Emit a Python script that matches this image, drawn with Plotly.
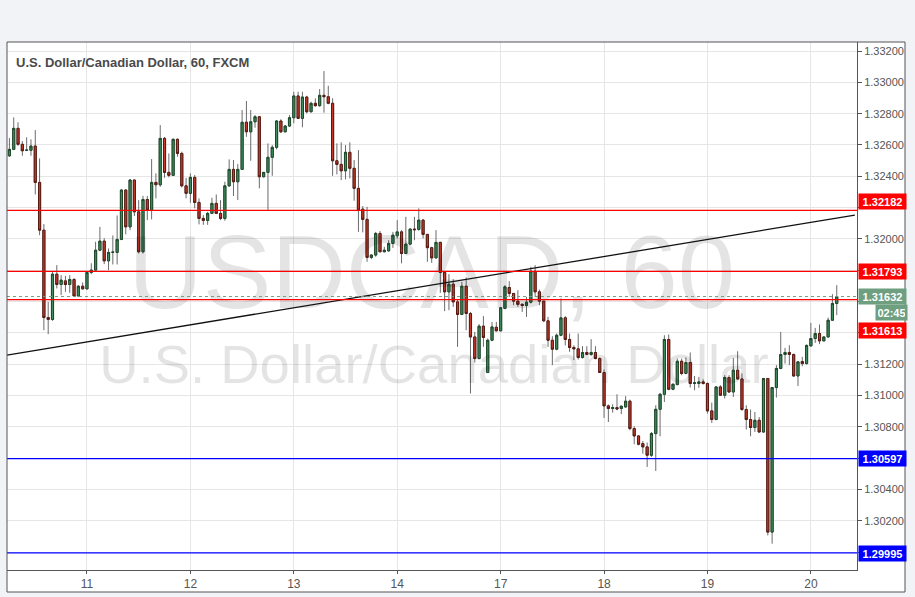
import plotly.graph_objects as go

# ---------------- data (USD/CAD hourly, FXCM) ----------------
day_labels = ["11", "12", "13", "14", "17", "18", "19", "20"]
day_start_index = [18, 42, 66, 90, 114, 138, 162, 186]

open_ = [1.32531, 1.32572, 1.32706, 1.32604, 1.32566, 1.32566, 1.32593, 1.32361, 1.32056, 1.31498,
         1.31486, 1.31775, 1.31709, 1.31732, 1.31709, 1.31741, 1.31636, 1.31698, 1.31681, 1.31786,
         1.31801, 1.31928, 1.31986, 1.31860, 1.31914, 1.31914, 1.31997, 1.32312, 1.32077, 1.32376,
         1.32173, 1.31918, 1.32252, 1.32184, 1.32361, 1.32346, 1.32642, 1.32425, 1.32406, 1.32636,
         1.32546, 1.32339, 1.32291, 1.32393, 1.32233, 1.32131, 1.32118, 1.32163, 1.32227, 1.32163,
         1.32131, 1.32339, 1.32444, 1.32365, 1.32444, 1.32745, 1.32684, 1.32748, 1.32780, 1.32397,
         1.32425, 1.32521, 1.32585, 1.32753, 1.32684, 1.32721, 1.32774, 1.32913, 1.32770, 1.32906,
         1.32812, 1.32866, 1.32851, 1.32917, 1.32908, 1.32866, 1.32499, 1.32476, 1.32435, 1.32553,
         1.32451, 1.32323, 1.32190, 1.32125, 1.31882, 1.31897, 1.32035, 1.31918, 1.31924, 1.31971,
         1.32020, 1.32045, 1.31907, 1.31967, 1.32063, 1.32061, 1.32120, 1.32029, 1.31944, 1.31879,
         1.31978, 1.31786, 1.31662, 1.31711, 1.31598, 1.31518, 1.31698, 1.31524, 1.31374, 1.31236,
         1.31443, 1.31147, 1.31353, 1.31436, 1.31413, 1.31556, 1.31690, 1.31652, 1.31603, 1.31583,
         1.31575, 1.31596, 1.31794, 1.31662, 1.31603, 1.31477, 1.31353, 1.31296, 1.31385, 1.31496,
         1.31358, 1.31307, 1.31298, 1.31243, 1.31275, 1.31262, 1.31275, 1.31236, 1.31147, 1.30934,
         1.30917, 1.30923, 1.30917, 1.30927, 1.30964, 1.30789, 1.30742, 1.30693, 1.30672, 1.30619,
         1.30757, 1.30912, 1.31008, 1.31358, 1.31040, 1.31070, 1.31219, 1.31141, 1.31211, 1.31077,
         1.31077, 1.31087, 1.31077, 1.30902, 1.30847, 1.31055, 1.31002, 1.31115, 1.31023, 1.31162,
         1.31106, 1.30911, 1.30847, 1.30796, 1.30842, 1.30767, 1.31109, 1.30128, 1.31051, 1.31173,
         1.31262, 1.31275, 1.31262, 1.31125, 1.31217, 1.31204, 1.31317, 1.31364, 1.31396, 1.31349,
         1.31374, 1.31481, 1.31588]

high = [1.32644, 1.32776, 1.32745, 1.32625, 1.32649, 1.32636, 1.32695, 1.32514, 1.32095, 1.31598,
        1.31796, 1.31833, 1.31769, 1.31764, 1.31769, 1.31750, 1.31705, 1.31722, 1.31794, 1.31845,
        1.31982, 1.32077, 1.32005, 1.31939, 1.32022, 1.32150, 1.32318, 1.32318, 1.32382, 1.32379,
        1.32248, 1.32275, 1.32274, 1.32510, 1.32419, 1.32727, 1.32651, 1.32546, 1.32642, 1.32642,
        1.32557, 1.32390, 1.32419, 1.32408, 1.32259, 1.32152, 1.32173, 1.32263, 1.32284, 1.32248,
        1.32365, 1.32508, 1.32504, 1.32478, 1.32823, 1.32881, 1.32823, 1.32791, 1.32785, 1.32427,
        1.32610, 1.32599, 1.32759, 1.32764, 1.32727, 1.32791, 1.32940, 1.32940, 1.32940, 1.32914,
        1.32876, 1.32898, 1.32957, 1.33072, 1.32978, 1.32898, 1.32610, 1.32617, 1.32599, 1.32617,
        1.32504, 1.32567, 1.32210, 1.32205, 1.31903, 1.32045, 1.32050, 1.31950, 1.31992, 1.32045,
        1.32120, 1.32056, 1.32141, 1.32067, 1.32141, 1.32195, 1.32127, 1.32031, 1.31950, 1.32056,
        1.31982, 1.31790, 1.31775, 1.31743, 1.31615, 1.31726, 1.31754, 1.31534, 1.31406, 1.31456,
        1.31507, 1.31364, 1.31470, 1.31470, 1.31566, 1.31705, 1.31730, 1.31652, 1.31673, 1.31587,
        1.31630, 1.31822, 1.31833, 1.31677, 1.31603, 1.31502, 1.31379, 1.31396, 1.31620, 1.31507,
        1.31396, 1.31321, 1.31396, 1.31315, 1.31315, 1.31360, 1.31315, 1.31243, 1.31166, 1.30943,
        1.30944, 1.31008, 1.30936, 1.30996, 1.30974, 1.30804, 1.30746, 1.30710, 1.30700, 1.30767,
        1.30938, 1.31017, 1.31385, 1.31390, 1.31077, 1.31236, 1.31236, 1.31243, 1.31275, 1.31125,
        1.31119, 1.31104, 1.31083, 1.30955, 1.31059, 1.31066, 1.31130, 1.31130, 1.31240, 1.31283,
        1.31141, 1.30938, 1.30911, 1.30895, 1.30863, 1.31112, 1.31112, 1.31055, 1.31194, 1.31406,
        1.31304, 1.31321, 1.31268, 1.31219, 1.31247, 1.31326, 1.31464, 1.31432, 1.31454, 1.31379,
        1.31498, 1.31647, 1.31705]

low = [1.32523, 1.32567, 1.32595, 1.32531, 1.32561, 1.32531, 1.32284, 1.32024, 1.31417, 1.31392,
       1.31477, 1.31684, 1.31641, 1.31662, 1.31656, 1.31630, 1.31635, 1.31679, 1.31679, 1.31775,
       1.31801, 1.31922, 1.31839, 1.31801, 1.31837, 1.31837, 1.31992, 1.32029, 1.32056, 1.32146,
       1.31907, 1.31907, 1.32120, 1.32125, 1.32259, 1.32333, 1.32390, 1.32393, 1.32405, 1.32525,
       1.32329, 1.32259, 1.32231, 1.32195, 1.32093, 1.32090, 1.32090, 1.32159, 1.32159, 1.32120,
       1.32116, 1.32333, 1.32274, 1.32248, 1.32440, 1.32652, 1.32499, 1.32710, 1.32323, 1.32393,
       1.32184, 1.32403, 1.32572, 1.32676, 1.32681, 1.32716, 1.32738, 1.32766, 1.32713, 1.32802,
       1.32808, 1.32844, 1.32844, 1.32806, 1.32860, 1.32403, 1.32412, 1.32376, 1.32380, 1.32387,
       1.32244, 1.32045, 1.32042, 1.31854, 1.31871, 1.31886, 1.31914, 1.31914, 1.31918, 1.31943,
       1.32003, 1.31844, 1.31903, 1.31960, 1.31992, 1.32052, 1.32003, 1.31854, 1.31847, 1.31875,
       1.31656, 1.31539, 1.31545, 1.31566, 1.31311, 1.31513, 1.31417, 1.31013, 1.31211, 1.31232,
       1.31311, 1.31144, 1.31347, 1.31411, 1.31411, 1.31551, 1.31630, 1.31577, 1.31566, 1.31534,
       1.31502, 1.31588, 1.31630, 1.31577, 1.31470, 1.31311, 1.31194, 1.31289, 1.31379, 1.31320,
       1.31279, 1.31226, 1.31230, 1.31236, 1.31258, 1.31253, 1.31232, 1.31144, 1.30857, 1.30831,
       1.30891, 1.30906, 1.30881, 1.30923, 1.30778, 1.30689, 1.30682, 1.30629, 1.30544, 1.30608,
       1.30518, 1.30740, 1.30959, 1.31034, 1.31034, 1.31066, 1.31130, 1.31136, 1.31051, 1.31034,
       1.31049, 1.31070, 1.30885, 1.30825, 1.30842, 1.30997, 1.30981, 1.31017, 1.30991, 1.31102,
       1.30902, 1.30783, 1.30740, 1.30767, 1.30764, 1.30764, 1.30107, 1.30054, 1.30987, 1.31168,
       1.31204, 1.31194, 1.31119, 1.31061, 1.31187, 1.31198, 1.31315, 1.31336, 1.31328, 1.31347,
       1.31371, 1.31477, 1.31513]

close = [1.32572, 1.32706, 1.32604, 1.32563, 1.32567, 1.32593, 1.32361, 1.32056, 1.31498, 1.31486,
         1.31775, 1.31709, 1.31737, 1.31709, 1.31741, 1.31636, 1.31698, 1.31681, 1.31786, 1.31801,
         1.31928, 1.31986, 1.31860, 1.31914, 1.31916, 1.31997, 1.32312, 1.32077, 1.32376, 1.32173,
         1.31918, 1.32252, 1.32184, 1.32361, 1.32346, 1.32642, 1.32425, 1.32406, 1.32636, 1.32546,
         1.32339, 1.32291, 1.32393, 1.32233, 1.32131, 1.32118, 1.32163, 1.32227, 1.32163, 1.32131,
         1.32339, 1.32444, 1.32365, 1.32444, 1.32745, 1.32684, 1.32748, 1.32780, 1.32397, 1.32425,
         1.32521, 1.32585, 1.32753, 1.32684, 1.32721, 1.32774, 1.32913, 1.32770, 1.32906, 1.32812,
         1.32866, 1.32851, 1.32917, 1.32908, 1.32866, 1.32499, 1.32476, 1.32435, 1.32553, 1.32451,
         1.32323, 1.32184, 1.32125, 1.31882, 1.31897, 1.32035, 1.31918, 1.31928, 1.31971, 1.32024,
         1.32045, 1.31907, 1.31967, 1.32063, 1.32059, 1.32120, 1.32029, 1.31944, 1.31879, 1.31978,
         1.31786, 1.31662, 1.31711, 1.31598, 1.31518, 1.31698, 1.31524, 1.31374, 1.31236, 1.31443,
         1.31371, 1.31353, 1.31438, 1.31413, 1.31560, 1.31694, 1.31652, 1.31603, 1.31582, 1.31575,
         1.31596, 1.31794, 1.31662, 1.31603, 1.31477, 1.31353, 1.31296, 1.31385, 1.31496, 1.31358,
         1.31307, 1.31298, 1.31243, 1.31275, 1.31262, 1.31275, 1.31236, 1.31147, 1.30934, 1.30917,
         1.30923, 1.30914, 1.30932, 1.30964, 1.30789, 1.30742, 1.30689, 1.30672, 1.30619, 1.30757,
         1.30912, 1.31008, 1.31358, 1.31040, 1.31072, 1.31219, 1.31141, 1.31211, 1.31077, 1.31081,
         1.31087, 1.31077, 1.30902, 1.30847, 1.31055, 1.31002, 1.31115, 1.31023, 1.31162, 1.31106,
         1.30911, 1.30847, 1.30796, 1.30842, 1.30767, 1.31109, 1.30128, 1.31051, 1.31173, 1.31262,
         1.31275, 1.31262, 1.31125, 1.31215, 1.31204, 1.31320, 1.31364, 1.31396, 1.31349, 1.31374,
         1.31481, 1.31588, 1.31632]

red_levels = [1.32182, 1.31793, 1.31613]
blue_levels = [1.30597, 1.29995]
last_price = 1.31632
countdown = "02:45"
trend_x = [-0.56, 196.2]
trend_y = [1.31258, 1.32152]
y_tick_values = [1.300, 1.302, 1.304, 1.306, 1.308, 1.310, 1.312, 1.314, 1.316,
                 1.318, 1.320, 1.322, 1.324, 1.326, 1.328, 1.330, 1.332]
y_tick_hidden = [1.300, 1.306, 1.314, 1.316, 1.318, 1.322]   # covered by the price labels

# ---------------- figure ----------------
x = list(range(len(open_)))
body_hi = [max(o, c) for o, c in zip(open_, close)]
body_lo = [min(o, c) for o, c in zip(open_, close)]
y_tick_text = ["" if any(abs(v - h) < 1e-9 for h in y_tick_hidden) else f"{v:.5f}"
               for v in y_tick_values]

W, H = 915, 597
ML, MR, MT, MB = 7, 58, 42, 27
PW, PH = W - ML - MR, H - MT - MB
x_range = [-0.56, 196.7]
y_range = [1.29886, 1.332575]

WM = "rgba(0,0,0,0.105)"
FONT = "Liberation Sans, Arial, sans-serif"

fig = go.Figure()
fig.add_trace(go.Scatter(x=[98.0], y=[1.31726], mode="text", text=["USDCAD, 60"],
                         textposition="middle center",
                         textfont=dict(size=103, color=WM, family=FONT),
                         hoverinfo="skip", showlegend=False))
fig.add_trace(go.Scatter(x=[98.5], y=[1.31165], mode="text", text=["U.S. Dollar/Canadian Dollar"],
                         textposition="middle center",
                         textfont=dict(size=54.5, color=WM, family=FONT),
                         hoverinfo="skip", showlegend=False))

WICK = "#6b6b6b"
fig.add_trace(go.Candlestick(x=x, open=open_, high=high, low=low, close=close,
                             increasing=dict(line=dict(color=WICK, width=1), fillcolor=WICK),
                             decreasing=dict(line=dict(color=WICK, width=1), fillcolor=WICK),
                             whiskerwidth=0, hoverinfo="skip", showlegend=False))
fig.add_trace(go.Candlestick(x=x, open=open_, high=body_hi, low=body_lo, close=close,
                             increasing=dict(line=dict(color="#1d4a2b", width=1), fillcolor="#3f8d5e"),
                             decreasing=dict(line=dict(color="#5a1a12", width=1), fillcolor="#c63b2c"),
                             whiskerwidth=0, hoverinfo="skip", showlegend=False))

fig.add_trace(go.Scatter(x=trend_x, y=trend_y, mode="lines",
                         line=dict(color="#111111", width=1.3),
                         hoverinfo="skip", showlegend=False))

shapes = []
px_x = lambda p: p / PW
px_y = lambda p: p / PH
shapes.append(dict(type="rect", xref="paper", yref="paper", x0=0, x1=1 + px_x(48),
                   y0=-px_y(22), y1=1, fillcolor="white", line=dict(width=0), layer="below"))
for lv in red_levels:
    shapes.append(dict(type="line", xref="paper", yref="y", x0=0, x1=1, y0=lv, y1=lv,
                       line=dict(color="#ff0000", width=1.2), layer="above"))
for lv in blue_levels:
    shapes.append(dict(type="line", xref="paper", yref="y", x0=0, x1=1, y0=lv, y1=lv,
                       line=dict(color="#0000ff", width=1.2), layer="above"))
shapes.append(dict(type="line", xref="paper", yref="y", x0=0, x1=1, y0=last_price, y1=last_price,
                   line=dict(color="#6e9f80", width=1, dash="dot"), layer="above"))
shapes.append(dict(type="rect", xref="paper", yref="paper", x0=0, x1=1 + px_x(48),
                   y0=-px_y(22), y1=1, fillcolor="rgba(0,0,0,0)",
                   line=dict(color="#555555", width=1), layer="above"))

annotations = [dict(xref="paper", yref="paper", x=0, y=1, xanchor="left", yanchor="top",
                    xshift=7, yshift=-11, showarrow=False,
                    text="U.S. Dollar/Canadian Dollar, 60, FXCM",
                    font=dict(size=13, color="#4a4a4a", family=FONT, weight="bold"))]


def price_label(val, color, shift=0, text=None, width=43, xshift=1):
    return dict(xref="paper", yref="y", x=1, y=val, xanchor="left", yanchor="middle",
                xshift=xshift, yshift=shift, showarrow=False,
                text=text if text is not None else f"{val:.5f}",
                font=dict(size=11, color="white", family=FONT, weight="bold"),
                bgcolor=color, borderpad=2, width=width, height=11, align="center")


annotations.append(price_label(red_levels[0], "#ff0000", shift=9))
annotations.append(price_label(red_levels[1], "#ff0000"))
annotations.append(price_label(last_price, "#6e9f80"))
annotations.append(price_label(last_price, "#6e9f80", shift=-16, text=countdown, width=27, xshift=18))
annotations.append(price_label(red_levels[2], "#ff0000", shift=-31))
annotations.append(price_label(blue_levels[0], "#0000ff"))
annotations.append(price_label(blue_levels[1], "#0000ff", shift=-1))

fig.update_layout(
    width=W, height=H,
    margin=dict(l=ML, r=MR, t=MT, b=MB, pad=0),
    paper_bgcolor="#f1f3f6", plot_bgcolor="white",
    showlegend=False, boxgap=0.3,
    shapes=shapes, annotations=annotations,
    xaxis=dict(range=x_range, tickvals=day_start_index, ticktext=day_labels,
               showgrid=True, gridcolor="#e6e6e6", gridwidth=1,
               zeroline=False, showline=True, linecolor="#555555", linewidth=1,
               ticks="outside", ticklen=3, tickcolor="#555555",
               tickfont=dict(size=12, color="#555555",
                             family="Liberation Sans Narrow, Arial Narrow, Liberation Sans, Arial"),
               rangeslider=dict(visible=False), fixedrange=True),
    yaxis=dict(range=y_range, side="right", tickmode="array",
               tickvals=y_tick_values, ticktext=y_tick_text,
               showgrid=True, gridcolor="#e6e6e6", gridwidth=1,
               zeroline=False, showline=True, linecolor="#555555", linewidth=1,
               ticks="outside", ticklen=4, tickcolor="#555555",
               tickfont=dict(size=11, color="#555555", family=FONT), fixedrange=True),
)

fig.write_html("out.html", config={"displayModeBar": False},
               post_script="document.body.style.margin='0px';document.body.style.padding='0px';")
